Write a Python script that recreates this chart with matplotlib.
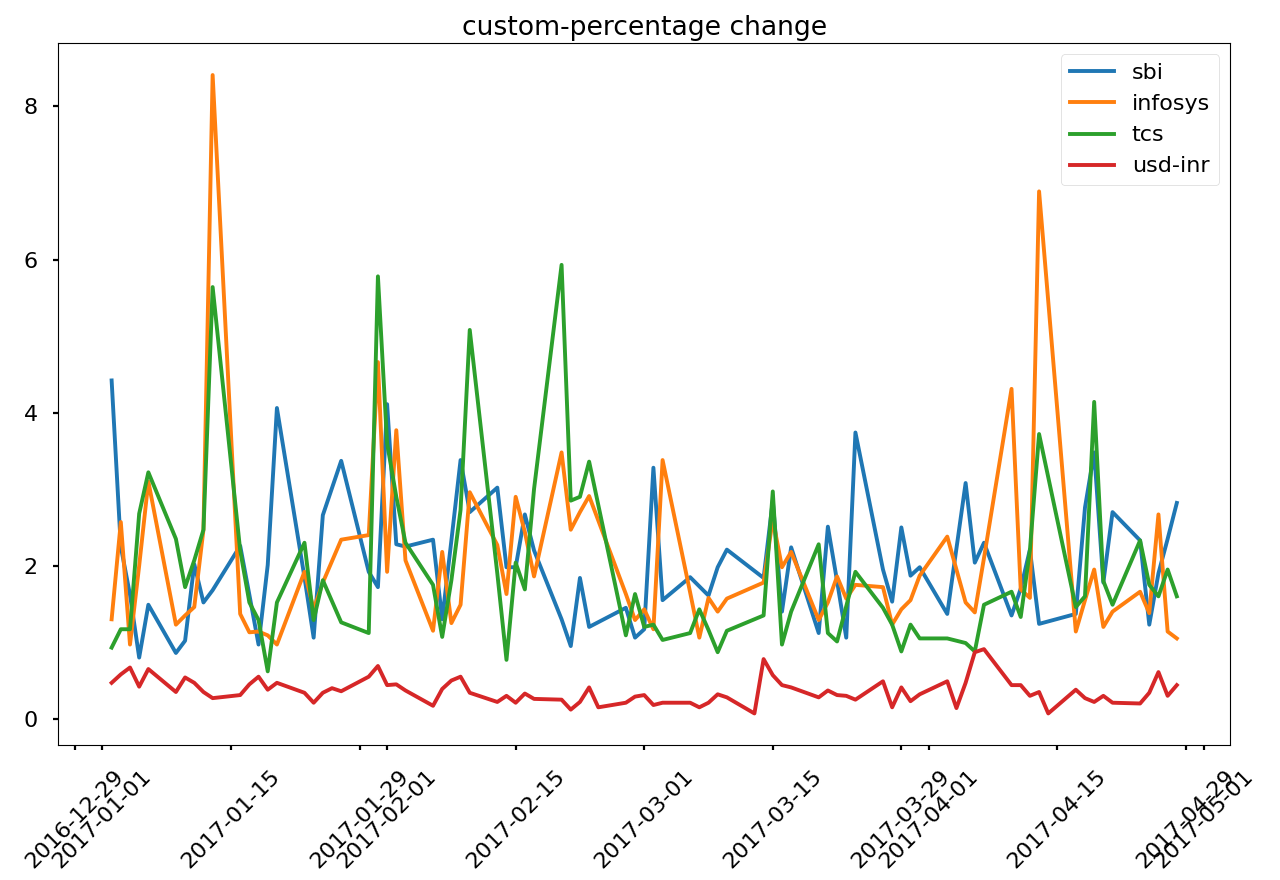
import numpy as np
import pandas as pd
import matplotlib
matplotlib.use("Agg")
import matplotlib.pyplot as plt
import matplotlib.dates as mdates

plt.style.use("seaborn-v0_8-poster")

# weekdays Jan 2 - Apr 28 2017; None = no trading that day
dates = pd.bdate_range("2017-01-02", "2017-04-28")

sbi = [
    # Jan
    4.42, 2.25, 1.62, 0.80, 1.49, 0.86, 1.02, 2.02, 1.52, 1.68, 2.26, 1.62, 0.97, 2.01, 4.06,
    1.85, 1.06, 2.66, None, 3.37, 1.92, 1.72,
    # Feb
    4.11, 2.28, 2.25, 2.34, 1.30, 2.33, 3.38, 2.70, 3.02, 1.98, 1.98, 2.67, 2.20, 1.30, 0.95,
    1.84, 1.20, None, 1.45, 1.06,
    # Mar
    1.17, 3.28, 1.55, 1.85, 1.73, 1.61, 1.98, 2.21, None, 1.84, 2.85, 1.40, 2.24, 1.12, 2.51,
    1.80, 1.06, 3.74, 1.95, 1.53, 2.50, 1.87, 1.98,
    # Apr
    1.37, None, 3.08, 2.04, 2.30, 1.35, 1.70, 2.21, 1.24, None, 1.37, 2.76, 3.48, 1.78, 2.70,
    2.33, 1.23, 1.90, 2.35, 2.82,
]
infosys = [
    1.30, 2.57, 0.97, 2.00, 3.10, 1.23, 1.35, 1.46, 2.47, 8.41, 1.37, 1.13, 1.14, 1.09, 0.97,
    1.92, 1.43, 1.78, None, 2.34, 2.40, 4.66,
    1.92, 3.77, 2.07, 1.15, 2.18, 1.25, 1.49, 2.96, 2.27, 1.63, 2.90, 2.44, 1.86, 3.48, 2.47,
    2.70, 2.91, None, 1.63, 1.29,
    1.43, 1.17, 3.38, 1.65, 1.06, 1.58, 1.40, 1.57, None, 1.78, 2.61, 1.98, 2.18, 1.29, 1.52,
    1.86, 1.57, 1.75, 1.72, 1.23, 1.43, 1.55, 1.87,
    2.38, None, 1.52, 1.39, 2.10, 4.31, 1.69, 1.58, 6.89, None, 1.14, 1.55, 1.95, 1.20, 1.40,
    1.66, 1.38, 2.67, 1.14, 1.05,
]
tcs = [
    0.93, 1.17, 1.17, 2.68, 3.22, 2.35, 1.72, 2.07, 2.47, 5.64, 2.20, 1.52, 1.29, 0.62, 1.52,
    2.30, 1.29, 1.81, None, 1.26, 1.12, 5.78,
    3.60, 2.90, 2.30, 1.75, 1.07, 1.81, 2.73, 5.08, 1.90, 0.77, 2.04, 1.69, 3.00, 5.93, 2.85,
    2.90, 3.36, None, 1.09, 1.63,
    1.20, 1.23, 1.03, 1.12, 1.43, 1.16, 0.87, 1.15, None, 1.35, 2.97, 0.97, 1.40, 2.28, 1.12,
    1.01, 1.47, 1.92, 1.45, 1.23, 0.88, 1.23, 1.05,
    1.05, None, 0.99, 0.88, 1.49, 1.66, 1.33, 2.20, 3.72, None, 1.46, 1.60, 4.14, 1.80, 1.49,
    2.33, 1.75, 1.60, 1.95, 1.60,
]
usd_inr = [
    0.47, 0.58, 0.67, 0.42, 0.65, 0.35, 0.54, 0.47, 0.35, 0.27, 0.31, 0.45, 0.55, 0.38, 0.47,
    0.34, 0.21, 0.34, 0.40, 0.36, 0.55, 0.69,
    0.44, 0.45, 0.37, 0.17, 0.39, 0.50, 0.55, 0.34, 0.22, 0.30, 0.21, 0.33, 0.26, 0.25, 0.12,
    0.22, 0.41, 0.15, 0.21, 0.29,
    0.31, 0.18, 0.21, 0.21, 0.15, 0.21, 0.32, 0.28, 0.07, 0.78, 0.57, 0.44, 0.41, 0.28, 0.37,
    0.31, 0.30, 0.25, 0.49, 0.15, 0.41, 0.23, 0.32,
    0.49, 0.14, 0.47, 0.87, 0.91, 0.44, 0.44, 0.30, 0.35, 0.07, 0.38, 0.27, 0.22, 0.30, 0.21,
    0.20, 0.34, 0.61, 0.30, 0.44,
]

series = {"sbi": sbi, "infosys": infosys, "tcs": tcs, "usd-inr": usd_inr}

fig, ax = plt.subplots(figsize=(12.8, 8.8), dpi=100)
for name, vals in series.items():
    s = pd.Series(vals, index=dates, dtype=float).dropna()
    ax.plot(s.index, s.values, label=name)

ax.xaxis.set_major_locator(mdates.DayLocator(bymonthday=[1, 15, 29]))
ax.xaxis.set_major_formatter(mdates.DateFormatter("%Y-%m-%d"))
plt.xticks(rotation=45)
ax.set_title("custom-percentage change")
ax.legend(loc="upper right")

fig.subplots_adjust(left=0.0456, right=0.961, top=0.951, bottom=0.153)
fig.savefig("out.png", dpi=100)
